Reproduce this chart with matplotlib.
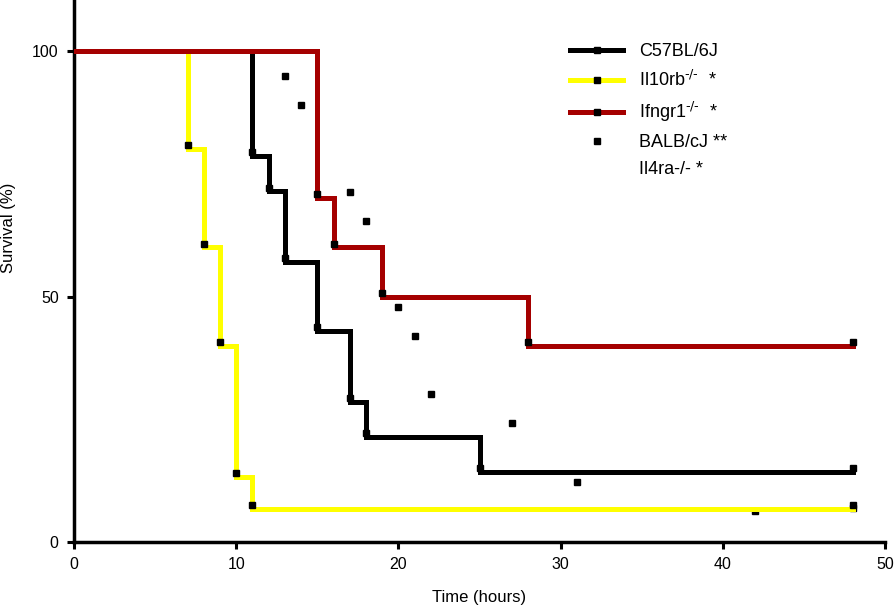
import numpy as np
import matplotlib
matplotlib.use('Agg')
from matplotlib import pyplot as plt
from matplotlib.lines import Line2D

plt.rcParams['font.family'] = ['Liberation Sans', 'DejaVu Sans']
plt.rcParams['mathtext.default'] = 'regular'

# survival curves (time in hours, survival in %)
c57_t = [0, 11, 12, 13, 15, 17, 18, 25, 48]
c57_s = [100, 78.6, 71.4, 57.1, 42.9, 28.6, 21.4, 14.3, 14.3]
il10rb_t = [0, 7, 8, 9, 10, 11, 48]
il10rb_s = [100, 80, 60, 40, 13.3, 6.7, 6.7]
ifngr1_t = [0, 15, 16, 19, 28, 48]
ifngr1_s = [100, 70, 60, 50, 40, 40]
# BALB/cJ only shows its tick marks
balb_t = [13, 14, 17, 18, 20, 21, 22, 27, 31, 42, 48]
balb_s = [94.9, 89.0, 71.3, 65.4, 47.9, 42.0, 30.1, 24.2, 12.2, 6.3, 6.9]

labels = ['C57BL/6J', r'Il10rb$^{\text{-/-}}$  *', r'Ifngr1$^{\text{-/-}}$  *', 'BALB/cJ **', 'Il4ra-/- *']
colors = ['black', '#ffff00', '#a50000']

fig = plt.figure(figsize=(8.94, 6.09), dpi=100)
ax = fig.add_axes([74/894, 1 - 542/609, (885 - 74)/894, 542/609])

lw = 3.6
ms = 4.6
ax.plot(balb_t, balb_s, ls='none', marker='s', ms=ms, color='black', zorder=2)
curves = [(c57_t, c57_s), (il10rb_t, il10rb_s), (ifngr1_t, ifngr1_s)]
for (t, s), col in zip(curves, colors):
    ax.step(t, s, where='post', color=col, lw=lw, zorder=3, solid_joinstyle='miter')
    ax.plot(t[1:], np.array(s[1:]) + 0.8, ls='none', marker='s', ms=ms, color='black', zorder=4)

ax.set_xlim(0, 50)
ax.set_ylim(0, 110.4)
ax.set_xticks([0, 10, 20, 30, 40, 50])
ax.set_yticks([0, 50, 100])
for sp in ['top', 'right']:
    ax.spines[sp].set_visible(False)
for sp in ['left', 'bottom']:
    ax.spines[sp].set_linewidth(2.5)
ax.tick_params(direction='out', length=5, width=2.2, labelsize=11.5, pad=6)
ax.set_xlabel('Time (hours)', fontsize=12, labelpad=13)
ax.set_ylabel('Survival (%)', fontsize=12)
ax.yaxis.set_label_coords(-0.071, 0.58)

handles = [Line2D([], [], color=c, lw=lw, marker='s', ms=ms, mfc='black', mec='black') for c in colors]
handles.append(Line2D([], [], ls='none', marker='s', ms=ms, color='black'))
handles.append(Line2D([], [], ls='none'))
ax.legend(handles, labels, loc='upper left', bbox_to_anchor=(0.592, 0.95), frameon=False,
          fontsize=13, numpoints=1, handlelength=2.9, labelspacing=0.55, handletextpad=0.9)

fig.savefig('out.png', dpi=100)
